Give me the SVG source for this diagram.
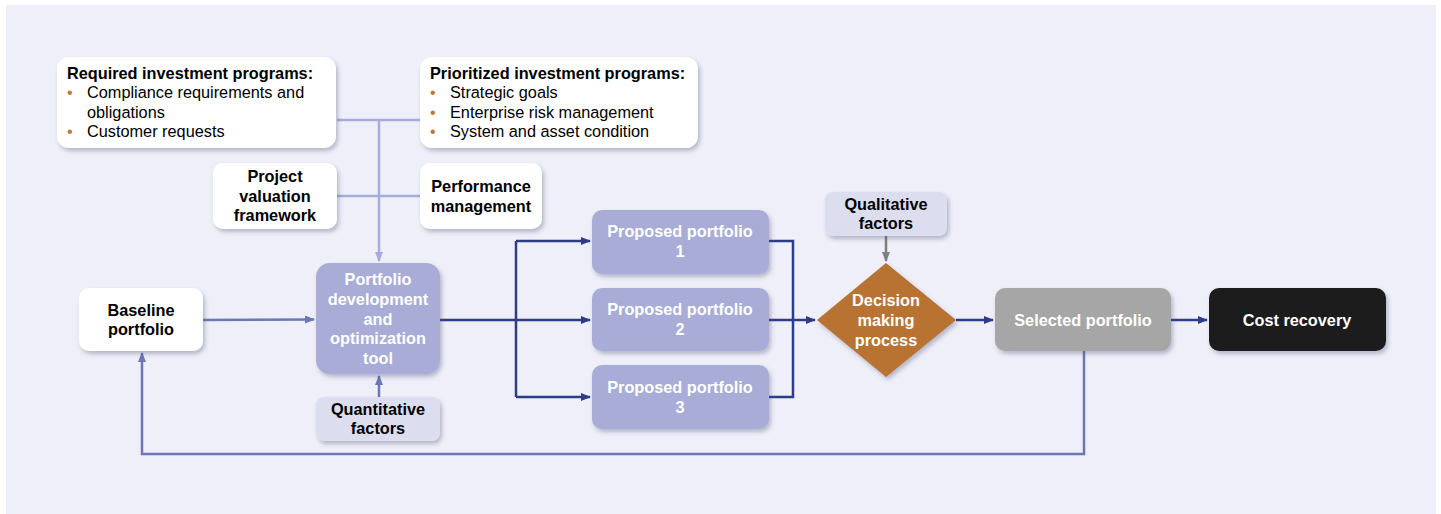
<svg xmlns="http://www.w3.org/2000/svg" width="1441" height="514" viewBox="0 0 1441 514">
<defs>
<filter id="sh" x="-20%" y="-20%" width="140%" height="150%">
<feDropShadow dx="2" dy="3" stdDeviation="2.2" flood-color="#4a4f70" flood-opacity="0.35"/>
</filter>
<marker id="aNavy" markerWidth="10" markerHeight="8" refX="9" refY="4" orient="auto" markerUnits="userSpaceOnUse"><path d="M0,0 L10,4 L0,8 Z" fill="#2e3c88"/></marker>
<marker id="aMid" markerWidth="10" markerHeight="8" refX="9" refY="4" orient="auto" markerUnits="userSpaceOnUse"><path d="M0,0 L10,4 L0,8 Z" fill="#6b78b4"/></marker>
<marker id="aLight" markerWidth="10" markerHeight="8" refX="9" refY="4" orient="auto" markerUnits="userSpaceOnUse"><path d="M0,0 L10,4 L0,8 Z" fill="#a5acdb"/></marker>
<marker id="aGray" markerWidth="10" markerHeight="8" refX="9" refY="4" orient="auto" markerUnits="userSpaceOnUse"><path d="M0,0 L10,4 L0,8 Z" fill="#7f7f7f"/></marker>
</defs>
<style>
text{font-family:"Liberation Sans",Arial,sans-serif;font-size:16.3px}
.b{font-weight:bold}
.c{text-anchor:middle}
.k{fill:#000}
.w{fill:#ffffff}
.bul{fill:#c0783a}
.wbox{fill:#ffffff;filter:url(#sh)}
.pbox{fill:#a8acd6;filter:url(#sh)}
.qbox{fill:#dcdeef;filter:url(#sh)}
.navy{stroke:#2e3c88;stroke-width:2.5;fill:none}
.mid{stroke:#6b78b4;stroke-width:2.5;fill:none}
.light{stroke:#a5acdb;stroke-width:2.5;fill:none}
.gray{stroke:#7f7f7f;stroke-width:2.5;fill:none}
</style>
<rect x="6" y="5" width="1430" height="509" fill="#eeeff8"/>

<g id="connectors">
<path class="light" d="M337,120 H420"/>
<path class="light" d="M337,196 H420"/>
<path class="light" d="M379,120 V261" marker-end="url(#aLight)"/>
<path class="mid" d="M379,397 V376" marker-end="url(#aMid)"/>
<path class="mid" d="M203,320 L314,319.5" marker-end="url(#aMid)"/>
<path class="navy" d="M440,320 H516"/>
<path class="navy" d="M516,241 V397"/>
<path class="navy" d="M516,241 H590" marker-end="url(#aNavy)"/>
<path class="navy" d="M516,320 H590" marker-end="url(#aNavy)"/>
<path class="navy" d="M516,397 H590" marker-end="url(#aNavy)"/>
<path class="navy" d="M769,241 H793 V397 H769"/>
<path class="navy" d="M769,320 H815" marker-end="url(#aNavy)"/>
<path class="gray" d="M886,236 V261" marker-end="url(#aGray)"/>
<path class="navy" d="M956,320 H993" marker-end="url(#aNavy)"/>
<path class="navy" d="M1171,320 H1207" marker-end="url(#aNavy)"/>
<path class="mid" d="M1084,351 V454 H142 V353" marker-end="url(#aMid)"/>
</g>

<g id="required">
<rect class="wbox" x="57" y="57" width="279" height="91" rx="12"/>
<text class="b k" x="67" y="79">Required investment programs:</text>
<text class="bul" x="67" y="98">•</text><text class="k" x="87" y="98">Compliance requirements and</text>
<text class="k" x="87" y="118">obligations</text>
<text class="bul" x="67" y="137">•</text><text class="k" x="87" y="137">Customer requests</text>
</g>

<g id="prioritized">
<rect class="wbox" x="420" y="57" width="278" height="91" rx="12"/>
<text class="b k" x="430" y="79">Prioritized investment programs:</text>
<text class="bul" x="430" y="98">•</text><text class="k" x="450" y="98">Strategic goals</text>
<text class="bul" x="430" y="118">•</text><text class="k" x="450" y="118">Enterprise risk management</text>
<text class="bul" x="430" y="137">•</text><text class="k" x="450" y="137">System and asset condition</text>
</g>

<g id="valuation">
<rect class="wbox" x="213" y="163" width="124" height="66" rx="10"/>
<text class="b k c" x="275" y="182">Project</text>
<text class="b k c" x="275" y="202">valuation</text>
<text class="b k c" x="275" y="221">framework</text>
</g>

<g id="performance">
<rect class="wbox" x="420" y="163" width="122" height="66" rx="10"/>
<text class="b k c" x="481" y="192">Performance</text>
<text class="b k c" x="481" y="212">management</text>
</g>

<g id="baseline">
<rect class="wbox" x="79" y="288" width="124" height="63" rx="10"/>
<text class="b k c" x="141" y="316">Baseline</text>
<text class="b k c" x="141" y="335">portfolio</text>
</g>

<g id="tool">
<rect class="pbox" x="316" y="263" width="124" height="111" rx="14"/>
<text class="b w c" x="378" y="285">Portfolio</text>
<text class="b w c" x="378" y="305">development</text>
<text class="b w c" x="378" y="325">and</text>
<text class="b w c" x="378" y="344">optimization</text>
<text class="b w c" x="378" y="364">tool</text>
</g>

<g id="quantitative">
<rect class="qbox" x="316" y="397" width="124" height="44" rx="8"/>
<text class="b k c" x="378" y="415">Quantitative</text>
<text class="b k c" x="378" y="434">factors</text>
</g>

<g id="proposed1">
<rect class="pbox" x="592" y="210" width="177" height="64" rx="10"/>
<text class="b w c" x="680" y="237">Proposed portfolio</text>
<text class="b w c" x="680" y="257">1</text>
</g>
<g id="proposed2">
<rect class="pbox" x="592" y="288" width="177" height="63" rx="10"/>
<text class="b w c" x="680" y="315">Proposed portfolio</text>
<text class="b w c" x="680" y="335">2</text>
</g>
<g id="proposed3">
<rect class="pbox" x="592" y="365" width="177" height="64" rx="10"/>
<text class="b w c" x="680" y="393">Proposed portfolio</text>
<text class="b w c" x="680" y="413">3</text>
</g>

<g id="qualitative">
<rect class="qbox" x="825" y="192" width="122" height="44" rx="8"/>
<text class="b k c" x="886" y="210">Qualitative</text>
<text class="b k c" x="886" y="229">factors</text>
</g>

<g id="decision">
<path d="M886,263 L956,320 L886,377 L817,320 Z" fill="#b87333" filter="url(#sh)"/>
<text class="b w c" x="886" y="306">Decision</text>
<text class="b w c" x="886" y="326">making</text>
<text class="b w c" x="886" y="346">process</text>
</g>

<g id="selected">
<rect x="995" y="288" width="176" height="63" rx="10" fill="#a6a6a6" filter="url(#sh)"/>
<text class="b w c" x="1083" y="326">Selected portfolio</text>
</g>

<g id="cost">
<rect x="1209" y="288" width="177" height="63" rx="10" fill="#1e1c1e" filter="url(#sh)"/>
<text class="b w c" x="1297" y="326">Cost recovery</text>
</g>
</svg>
